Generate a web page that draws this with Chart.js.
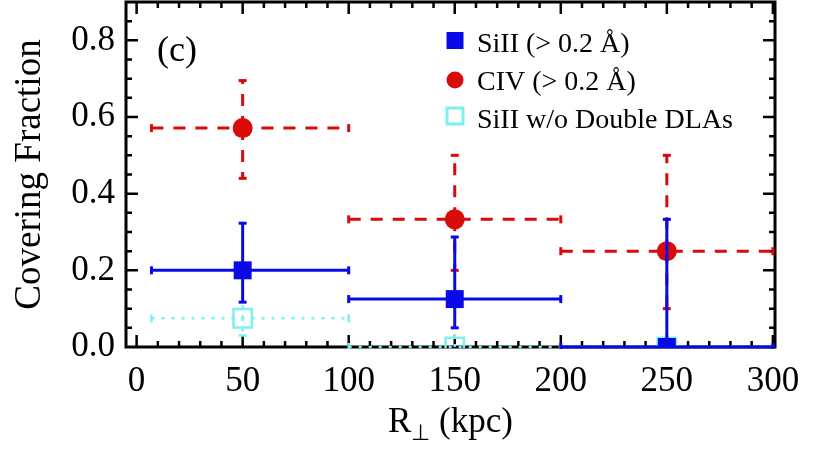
<!DOCTYPE html>
<html>
<head>
<meta charset="utf-8">
<script src="https://cdn.jsdelivr.net/npm/chart.js@4"></script>
<style>
  html, body { margin: 0; padding: 0; background: #fff; }
  #wrap { width: 834px; height: 451px; position: relative; }
</style>
</head>
<body>
<div id="wrap"><canvas id="coverChart"></canvas></div>
<script>
// radial bins (kpc)
const binCenters = [50, 150, 250];
const binLow = [7, 100, 200];
const binHigh = [100, 200, 300];

// covering fractions and their error ranges
const siiValues = [0.2, 0.125, 0.0];
const siiLow = [0.117, 0.05, 0.0];
const siiHigh = [0.323, 0.287, 0.333];

const civValues = [0.571, 0.333, 0.25];
const civLow = [0.44, 0.2, 0.1];
const civHigh = [0.695, 0.5, 0.5];

const noDoubleValues = [0.075, 0.0, 0.0];
const noDoubleLow = [0.03, 0.0, 0.0];
const noDoubleHigh = [0.2, 0.125, 0.333];

const xTickValues = [0, 50, 100, 150, 200, 250, 300];
const yTickValues = [0.0, 0.2, 0.4, 0.6, 0.8];

const BLUE = "#0a0ae8";
const RED = "#d80a0a";
const CYAN = "#7ef0f0";
const SERIF = "'Liberation Serif', 'Times New Roman', serif";

const toPoints = (vals) => binCenters.map((x, i) => ({ x: x, y: vals[i] }));

// error bars, drawn just before each dataset's own markers
const errorBars = {
  id: "errorBars",
  beforeDatasetDraw(chart, args) {
    const ds = chart.data.datasets[args.index];
    if (!ds.errLow) return;
    const { ctx, chartArea: a, scales: { x, y } } = chart;
    const seg = (x0, y0, x1, y1) => {
      ctx.beginPath();
      ctx.moveTo(x0, y0);
      ctx.lineTo(x1, y1);
      ctx.stroke();
    };
    ctx.save();
    ctx.beginPath();
    ctx.rect(a.left, a.top, a.right - a.left, a.bottom - a.top + 2);
    ctx.clip();
    ctx.strokeStyle = ds.errColor;
    ctx.lineWidth = ds.errWidth;
    ds.data.forEach((p, i) => {
      const px = x.getPixelForValue(p.x);
      const py = y.getPixelForValue(p.y);
      const x0 = x.getPixelForValue(binLow[i]);
      const x1 = x.getPixelForValue(binHigh[i]);
      const y0 = y.getPixelForValue(ds.errLow[i]);
      const y1 = y.getPixelForValue(ds.errHigh[i]);
      ctx.setLineDash(ds.errDash);
      seg(x0, py, x1, py);
      if (y0 !== py) seg(px, py, px, y0);
      if (y1 !== py) seg(px, py, px, y1);
      ctx.setLineDash([]);
      const c = 4;
      seg(x0, py - c, x0, py + c);
      seg(x1, py - c, x1, py + c);
      if (y0 !== py) seg(px - c, y0, px + c, y0);
      if (y1 !== py) seg(px - c, y1, px + c, y1);
    });
    ctx.restore();
  },
};

// box with inward major/minor ticks on all four sides
const frameBox = {
  id: "frameBox",
  beforeDatasetsDraw(chart) {
    const { ctx, chartArea: a, scales: { x, y } } = chart;
    ctx.save();
    ctx.strokeStyle = "#000";
    ctx.lineWidth = 3;
    ctx.strokeRect(a.left, a.top, a.right - a.left, a.bottom - a.top);
    ctx.lineWidth = 2.5;
    for (let v = 0; v <= 300; v += 10) {
      const px = x.getPixelForValue(v);
      const len = v % 50 === 0 ? 12 : 6;
      ctx.beginPath();
      ctx.moveTo(px, a.bottom); ctx.lineTo(px, a.bottom - len);
      ctx.moveTo(px, a.top); ctx.lineTo(px, a.top + len);
      ctx.stroke();
    }
    for (let k = 1; k <= 17; k++) {
      const v = k * 0.05;
      const py = y.getPixelForValue(v);
      const len = k % 4 === 0 ? 12 : 6;
      ctx.beginPath();
      ctx.moveTo(a.left, py); ctx.lineTo(a.left + len, py);
      ctx.moveTo(a.right, py); ctx.lineTo(a.right - len, py);
      ctx.stroke();
    }
    ctx.restore();
  },
};

// legend, panel tag and x-axis title with subscript
const annotations = {
  id: "annotations",
  afterDraw(chart) {
    const { ctx, chartArea: a } = chart;
    ctx.save();
    ctx.fillStyle = "#000";
    ctx.textBaseline = "alphabetic";
    ctx.font = "36px " + SERIF;
    ctx.fillText("(c)", 157, 61);

    // legend
    const lx = 455, tx = 477;
    ctx.fillStyle = BLUE;
    ctx.fillRect(lx - 8.5, 32, 17, 17);
    ctx.fillStyle = RED;
    ctx.beginPath();
    ctx.arc(lx, 80, 8.5, 0, Math.PI * 2);
    ctx.fill();
    ctx.strokeStyle = CYAN;
    ctx.lineWidth = 3;
    ctx.strokeRect(lx - 8, 108, 16, 16);
    ctx.fillStyle = "#000";
    ctx.font = "28px " + SERIF;
    chart.data.datasets.forEach((ds, i) => {
      ctx.fillText(ds.label, tx, 52 + i * 38);
    });

    // x title: R_perp (kpc)
    const big = "35px " + SERIF, small = "22px " + SERIF;
    ctx.font = big;
    const wR = ctx.measureText("R").width;
    const wTail = ctx.measureText(" (kpc)").width;
    ctx.font = small;
    const wSub = ctx.measureText("\u22a5").width;
    const cx = (a.left + a.right) / 2;
    let sx = cx - (wR + wSub + wTail) / 2;
    const base = 432;
    ctx.font = big;
    ctx.fillText("R", sx, base);
    sx += wR;
    ctx.font = small;
    ctx.fillText("\u22a5", sx, base + 8);
    sx += wSub;
    ctx.font = big;
    ctx.fillText(" (kpc)", sx, base);
    ctx.restore();
  },
};

const ctx = document.getElementById("coverChart");

const coverChart = new Chart(ctx, {
  type: "scatter",
  data: {
    datasets: [
      {
        label: "SiII (> 0.2 \u00c5)",
        data: toPoints(siiValues),
        pointStyle: "rect",
        pointRadius: 12.7,
        backgroundColor: BLUE,
        borderColor: BLUE,
        borderWidth: 0,
        errLow: siiLow,
        errHigh: siiHigh,
        errColor: BLUE,
        errDash: [],
        errWidth: 3,
        clip: { left: 0, top: 0, right: 0, bottom: 1 },
      },
      {
        label: "CIV (> 0.2 \u00c5)",
        data: toPoints(civValues),
        pointStyle: "circle",
        pointRadius: 10,
        backgroundColor: RED,
        borderColor: RED,
        borderWidth: 0,
        errLow: civLow,
        errHigh: civHigh,
        errColor: RED,
        errDash: [12, 10],
        errWidth: 3,
        clip: { left: 0, top: 0, right: 0, bottom: 1 },
      },
      {
        label: "SiII w/o Double DLAs",
        data: toPoints(noDoubleValues),
        pointStyle: "rect",
        pointRadius: 13,
        backgroundColor: "rgba(0,0,0,0)",
        borderColor: CYAN,
        borderWidth: 2.5,
        errLow: noDoubleLow,
        errHigh: noDoubleHigh,
        errColor: CYAN,
        errDash: [3, 7],
        errWidth: 2.5,
        clip: { left: 0, top: 0, right: 0, bottom: 1 },
      },
    ],
  },
  plugins: [errorBars, frameBox, annotations],
  options: {
    responsive: true,
    maintainAspectRatio: false,
    animation: false,
    events: [],
    layout: {
      autoPadding: false,
      padding: { top: 2, right: 59, bottom: 0, left: 0 },
    },
    plugins: {
      legend: { display: false },
      tooltip: { enabled: false },
    },
    scales: {
      x: {
        type: "linear",
        min: -5,
        max: 301,
        afterBuildTicks: (scale) => {
          scale.ticks = xTickValues.map((v) => ({ value: v }));
        },
        afterFit: (scale) => {
          scale.height = 104;
          scale.paddingLeft = 0;
          scale.paddingRight = 0;
        },
        grid: { display: false, drawTicks: false },
        border: { display: false },
        ticks: {
          color: "#000",
          padding: 14,
          maxRotation: 0,
          font: { family: SERIF, size: 35 },
        },
      },
      y: {
        type: "linear",
        min: 0,
        max: 0.9,
        afterBuildTicks: (scale) => {
          scale.ticks = yTickValues.map((v) => ({ value: v }));
        },
        afterFit: (scale) => {
          scale.width = 126;
          scale.paddingTop = 0;
          scale.paddingBottom = 0;
        },
        grid: { display: false, drawTicks: false },
        border: { display: false },
        ticks: {
          color: "#000",
          padding: 11,
          font: { family: SERIF, size: 35 },
          callback: (v) => Number(v).toFixed(1),
        },
        title: {
          display: true,
          text: "Covering Fraction",
          color: "#000",
          padding: { top: 8, bottom: 0 },
          font: { family: SERIF, size: 37 },
        },
      },
    },
  },
});
</script>
</body>
</html>
